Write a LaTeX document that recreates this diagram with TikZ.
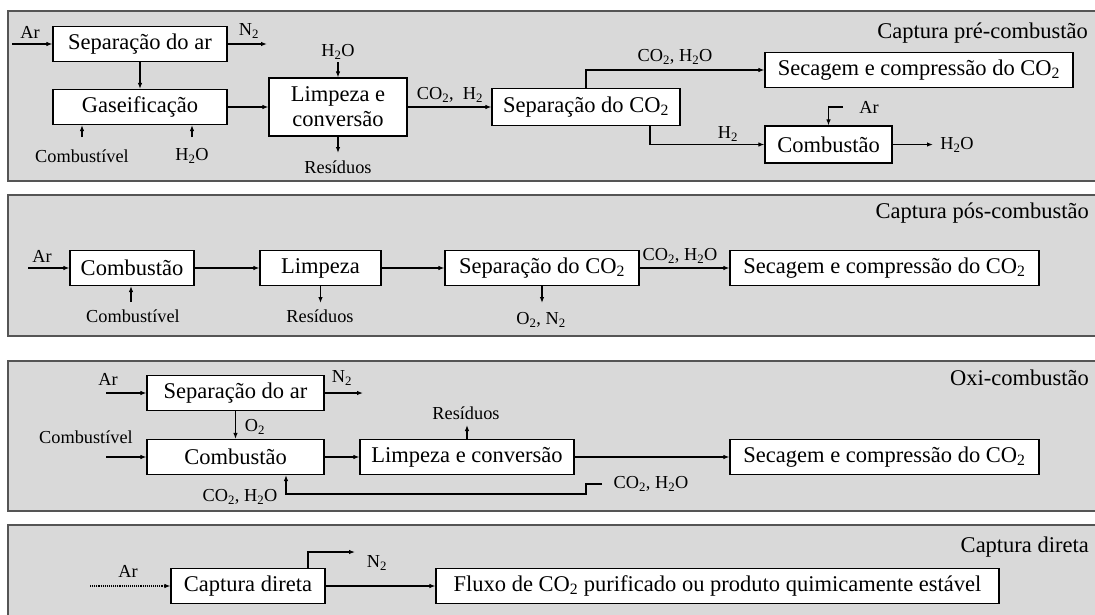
\documentclass[tikz,border=0pt]{standalone}
\usepackage{fontspec}
\setmainfont{Liberation Serif}
\usetikzlibrary{arrows.meta}
\definecolor{panelgray}{RGB}{217,217,217}
\definecolor{paneledge}{RGB}{85,85,85}
\begin{document}
\begin{tikzpicture}[x=1pt,y=-1pt,>={Latex[length=6pt,width=4.5pt]},
  panel/.style={fill=panelgray,draw=paneledge,line width=1.6pt},
  box/.style={draw,fill=white,line width=1.2pt,minimum height=35pt,inner sep=0pt,font=\fontsize{22.5pt}{25pt}\selectfont},
  lbl/.style={inner sep=0pt,font=\fontsize{18.3pt}{20pt}\selectfont},
  ttl/.style={anchor=east,inner sep=0pt,font=\fontsize{22.5pt}{25pt}\selectfont},
  flow/.style={->,line width=1.1pt}]
\useasboundingbox (0,0) rectangle (1095,614);
\clip (0,0) rectangle (1095,614);
\fill[white] (0,0) rectangle (1095,614);
\draw[panel] (8,11) rectangle (1110,181);
\draw[panel] (8,195) rectangle (1110,336);
\draw[panel] (8,361) rectangle (1110,511);
\draw[panel] (8,525) rectangle (1110,640);

\node[box,minimum width=174pt] (sepAr) at (140,44) {Separação do ar};
\node[box,minimum width=174pt] (gasif) at (140,107) {Gaseificação};
\node[box,minimum width=138pt,minimum height=58pt,align=center] (limpConv) at (338,107) {Limpeza e\\conversão};
\node[box,minimum width=188pt,minimum height=37pt] (sepCO) at (586,107) {Separação do CO\textsubscript{2}};
\node[box,minimum width=308pt] (secComp) at (919,70) {Secagem e compressão do CO\textsubscript{2}};
\node[box,minimum width=127pt,minimum height=37pt] (combH) at (828.5,144.5) {Combustão};
\coordinate (arIn) at (12,44);
\coordinate (nOut) at (267,44);
\coordinate (fuelIn) at (82,137);
\coordinate (waterIn) at (192,137);
\coordinate (waterTop) at (338,62);
\coordinate (resOut) at (338,153);
\coordinate (arTop) at (843,107);
\coordinate (waterOut) at (933,144.5);
\node[lbl] (arA) at (30,32) {Ar};
\node[lbl] (nA) at (249,31) {N\textsubscript{2}};
\node[lbl] (fuelA) at (82,156) {Combustível};
\node[lbl] (waterA) at (192,156) {H\textsubscript{2}O};
\node[lbl] (waterB) at (338,52) {H\textsubscript{2}O};
\node[lbl] (resA) at (338,167) {Resíduos};
\node[lbl] (gasA) at (450,95) {CO\textsubscript{2},\ \ H\textsubscript{2}};
\node[lbl] (co2A) at (675,57) {CO\textsubscript{2}, H\textsubscript{2}O};
\node[lbl] (h2A) at (728,134) {H\textsubscript{2}};
\node[lbl] (arB) at (869,107) {Ar};
\node[lbl] (waterC) at (957,145) {H\textsubscript{2}O};
\node[ttl] (preTtl) at (1088,33) {Captura pré-combustão};
\draw[flow] (arIn) -- (sepAr);
\draw[flow] (sepAr) -- (nOut);
\draw[flow] (sepAr) -- (gasif);
\draw[flow] (fuelIn) -- (fuelIn |- gasif.south);
\draw[flow] (waterIn) -- (waterIn |- gasif.south);
\draw[flow] (gasif) -- (limpConv);
\draw[flow] (waterTop) -- (limpConv);
\draw[flow] (limpConv) -- (resOut);
\draw[flow] (limpConv) -- (sepCO);
\draw[flow] (sepCO) |- (secComp);
\draw[flow] ([xshift=64pt]sepCO.south) |- (combH.west);
\draw[flow] (arTop) -| (combH);
\draw[flow] (combH) -- (waterOut);

\node[box,minimum width=124pt] (combP) at (132,268) {Combustão};
\node[box,minimum width=121pt] (limpP) at (320.5,268) {Limpeza};
\node[box,minimum width=194pt] (sepP) at (542,268) {Separação do CO\textsubscript{2}};
\node[box,minimum width=309pt] (secP) at (884.5,268) {Secagem e compressão do CO\textsubscript{2}};
\coordinate (arInP) at (28,268);
\coordinate (fuelInP) at (131,302);
\coordinate (resOutP) at (320.5,303);
\coordinate (gasOutP) at (542,303);
\node[lbl] (arP) at (42,256) {Ar};
\node[lbl] (fuelP) at (133,316) {Combustível};
\node[lbl] (resP) at (320,316) {Resíduos};
\node[lbl] (gasP) at (541,320) {O\textsubscript{2}, N\textsubscript{2}};
\node[lbl] (co2P) at (680,256) {CO\textsubscript{2}, H\textsubscript{2}O};
\node[ttl] (posTtl) at (1089,213) {Captura pós-combustão};
\draw[flow] (arInP) -- (combP);
\draw[flow] (fuelInP) -- (fuelInP |- combP.south);
\draw[flow] (combP) -- (limpP);
\draw[flow] (limpP) -- (resOutP);
\draw[flow] (limpP) -- (sepP);
\draw[flow] (sepP) -- (gasOutP);
\draw[flow] (sepP) -- (secP);

\node[box,minimum width=177pt] (sepArO) at (235.5,393) {Separação do ar};
\node[box,minimum width=177pt] (combO) at (235.5,457) {Combustão};
\node[box,minimum width=214pt] (limpO) at (467,457) {Limpeza e conversão};
\node[box,minimum width=309pt] (secO) at (884.5,457) {Secagem e compressão do CO\textsubscript{2}};
\coordinate (arInO) at (106,393);
\coordinate (nOutO) at (363,393);
\coordinate (fuelInO) at (106,457);
\coordinate (resOutO) at (467,425);
\coordinate (recIn) at (602,484);
\node[lbl] (arO) at (108,379) {Ar};
\node[lbl] (nO) at (342,378) {N\textsubscript{2}};
\node[lbl] (oxO) at (255,427) {O\textsubscript{2}};
\node[lbl] (fuelO) at (86,437) {Combustível};
\node[lbl] (resO) at (466,413) {Resíduos};
\node[lbl] (recA) at (651,484) {CO\textsubscript{2}, H\textsubscript{2}O};
\node[lbl] (recB) at (240,497) {CO\textsubscript{2}, H\textsubscript{2}O};
\node[ttl] (oxiTtl) at (1089,378) {Oxi-combustão};
\draw[flow] (arInO) -- (sepArO);
\draw[flow] (sepArO) -- (nOutO);
\draw[flow] (sepArO) -- (combO);
\draw[flow] (fuelInO) -- (combO);
\draw[flow] (combO) -- (limpO);
\draw[flow] (limpO) -- (resOutO);
\draw[flow] (limpO) -- (secO);
\draw[flow] (recIn) -- ++(-16,0) -- ++(0,10) -| ([xshift=50.5pt]combO.south);

\node[box,minimum width=154pt] (captD) at (248,586) {Captura direta};
\node[box,minimum width=563pt] (fluxD) at (717.5,586) {Fluxo de CO\textsubscript{2} purificado ou produto quimicamente estável};
\coordinate (arInD) at (90,586);
\coordinate (nOutD) at (355,552);
\node[lbl] (arD) at (128,571) {Ar};
\node[lbl] (nD) at (377,563) {N\textsubscript{2}};
\node[ttl] (dirTtl) at (1089,547) {Captura direta};
\draw[flow,densely dotted] (arInD) -- (captD);
\draw[flow] ([xshift=60pt]captD.north) |- (nOutD);
\draw[flow] (captD) -- (fluxD);
\end{tikzpicture}
\end{document}
